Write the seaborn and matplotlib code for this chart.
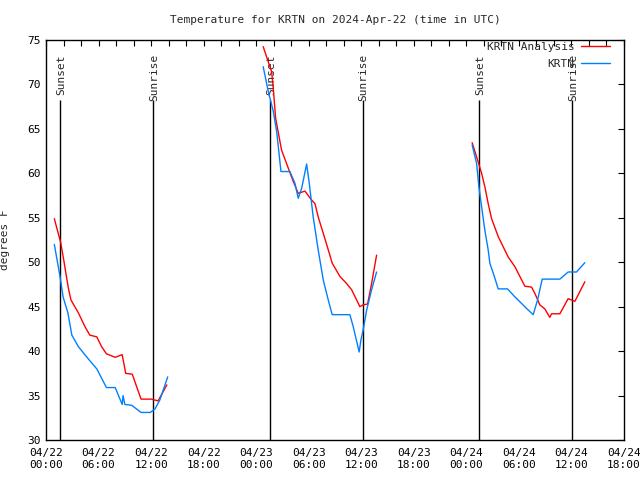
import matplotlib
matplotlib.use("Agg")
import matplotlib.pyplot as plt
import seaborn as sns
import pandas as pd
import numpy as np
from matplotlib.ticker import MultipleLocator, FixedLocator

# hours since 2024-04-22 00:00 UTC
red_seg1_h = [0.95, 1.68, 2.05, 2.55, 2.85, 3.7, 4.45, 5.0, 5.8, 6.35, 6.9, 7.9, 8.7, 9.1, 9.85, 10.85, 12.05, 12.8, 13.8]
red_seg1_v = [54.9, 52.2, 50.1, 47.1, 45.75, 44.3, 42.75, 41.8, 41.6, 40.5, 39.7, 39.3, 39.6, 37.5, 37.4, 34.6, 34.6, 34.4, 36.2]
blue_seg1_h = [0.95, 1.6, 1.95, 2.5, 2.95, 3.7, 4.85, 5.8, 6.9, 7.9, 8.7, 8.8, 9.0, 9.8, 10.85, 11.9, 12.45, 13.0, 13.9]
blue_seg1_v = [52.0, 48.4, 46.1, 44.3, 41.8, 40.5, 39.1, 38.0, 35.9, 35.9, 34.0, 35.0, 34.0, 33.9, 33.1, 33.1, 33.5, 34.5, 37.1]

red_seg2_h = [24.8, 25.77, 25.95, 26.22, 26.9, 27.66, 28.23, 28.8, 29.57, 30.33, 30.71, 31.08, 31.66, 32.23, 32.68, 33.56, 34.33, 34.9, 35.47, 35.84, 36.22, 36.72, 37.18, 37.75]
red_seg2_v = [74.25, 71.4, 69.6, 66.2, 62.6, 60.6, 59.1, 57.75, 58.0, 57.0, 56.6, 55.1, 53.25, 51.4, 49.9, 48.4, 47.6, 46.9, 45.75, 45.0, 45.2, 45.3, 47.6, 50.8]
blue_seg2_h = [24.8, 25.38, 25.95, 26.34, 26.83, 27.85, 28.42, 28.8, 29.19, 29.76, 30.06, 30.51, 31.08, 31.66, 32.23, 32.68, 34.7, 35.08, 35.76, 35.96, 36.22, 36.61, 37.18, 37.75]
blue_seg2_v = [72.0, 69.2, 67.0, 64.7, 60.2, 60.2, 58.9, 57.2, 58.3, 61.05, 58.9, 55.1, 51.4, 48.0, 45.75, 44.1, 44.1, 42.75, 39.9, 41.25, 42.4, 44.6, 46.9, 48.9]

red_seg3_h = [48.66, 49.28, 49.74, 50.11, 50.49, 50.88, 51.63, 52.2, 52.77, 53.54, 54.11, 54.68, 55.44, 55.82, 56.39, 56.96, 57.53, 57.73, 58.68, 59.62, 60.39, 61.53]
red_seg3_v = [63.45, 61.5, 60.0, 58.5, 56.6, 54.9, 52.9, 51.75, 50.6, 49.5, 48.4, 47.3, 47.2, 46.5, 45.2, 44.75, 43.8, 44.2, 44.2, 45.9, 45.6, 47.8]
blue_seg3_h = [48.66, 49.17, 49.43, 49.74, 50.11, 50.49, 50.68, 51.26, 51.63, 52.7, 53.54, 54.11, 54.87, 55.63, 56.13, 56.66, 58.68, 59.62, 60.58, 61.53]
blue_seg3_v = [63.2, 61.1, 58.5, 56.25, 53.6, 51.4, 49.9, 48.2, 47.0, 47.0, 46.1, 45.55, 44.8, 44.1, 45.75, 48.1, 48.1, 48.9, 48.9, 49.95]

sun_events_h = [1.65, 12.27, 25.6, 36.15, 49.45, 60.05]
sun_events_lbl = ["Sunset", "Sunrise", "Sunset", "Sunrise", "Sunset", "Sunrise"]

tick_hours = list(range(0, 67, 6))
tick_labels = ["04/22\n00:00", "04/22\n06:00", "04/22\n12:00", "04/22\n18:00",
               "04/23\n00:00", "04/23\n06:00", "04/23\n12:00", "04/23\n18:00",
               "04/24\n00:00", "04/24\n06:00", "04/24\n12:00", "04/24\n18:00"]

def build(segs):
    rows = []
    for i, (h, v) in enumerate(segs):
        for a, b in zip(h, v):
            rows.append({"h": a, "v": b, "seg": i})
    return pd.DataFrame(rows)

red_df = build([(red_seg1_h, red_seg1_v), (red_seg2_h, red_seg2_v), (red_seg3_h, red_seg3_v)])
blue_df = build([(blue_seg1_h, blue_seg1_v), (blue_seg2_h, blue_seg2_v), (blue_seg3_h, blue_seg3_v)])

sns.set_style("white")
plt.rcParams["font.family"] = ["DejaVu Sans Mono", "DejaVu Sans"]

fig = plt.figure(figsize=(6.4, 4.8), dpi=100)
ax = fig.add_axes([46/640, 40/480, (624-46)/640, 400/480])

for x, lbl in zip(sun_events_h, sun_events_lbl):
    ax.vlines(x, 30, 68.3, color="black", linewidth=1.0, zorder=1)
    ax.text(x + 0.1, 73.4, lbl, rotation=90, ha="center", va="top", fontsize=8, zorder=1)

sns.lineplot(data=red_df, x="h", y="v", units="seg", estimator=None, color="#ff0000",
             linewidth=1.0, ax=ax, label="KRTN Analysis", sort=False)
sns.lineplot(data=blue_df, x="h", y="v", units="seg", estimator=None, color="#0080ff",
             linewidth=1.0, ax=ax, label="KRTN", sort=False)

ax.set_xlim(0, 66)
ax.set_ylim(30, 75)
ax.xaxis.set_major_locator(FixedLocator(tick_hours))
ax.set_xticklabels(tick_labels)
ax.xaxis.set_minor_locator(MultipleLocator(2))
ax.yaxis.set_major_locator(MultipleLocator(5))
ax.tick_params(axis="both", which="both", direction="in", length=4, width=0.8,
               top=True, right=True, labelsize=8, colors="black")
ax.tick_params(axis="x", which="major", pad=6)
ax.set_xlabel("")
ax.set_ylabel("degrees F", fontsize=8)
ax.yaxis.set_label_coords(-0.062, 0.5)
for s in ax.spines.values():
    s.set_color("black")
    s.set_linewidth(1.0)

ax.set_title("Temperature for KRTN on 2024-Apr-22 (time in UTC)", fontsize=8, pad=12)

handles, labels = ax.get_legend_handles_labels()
seen = {}
for h, l in zip(handles, labels):
    if l not in seen:
        seen[l] = h
leg = ax.legend(list(seen.values()), list(seen.keys()), loc="upper right",
                bbox_to_anchor=(0.9758, 0.995),
                markerfirst=False, frameon=False, fontsize=8,
                handlelength=2.6, borderaxespad=0.0, borderpad=0.0,
                labelspacing=0.6, handletextpad=0.6)

fig.savefig("out.png", dpi=100)
